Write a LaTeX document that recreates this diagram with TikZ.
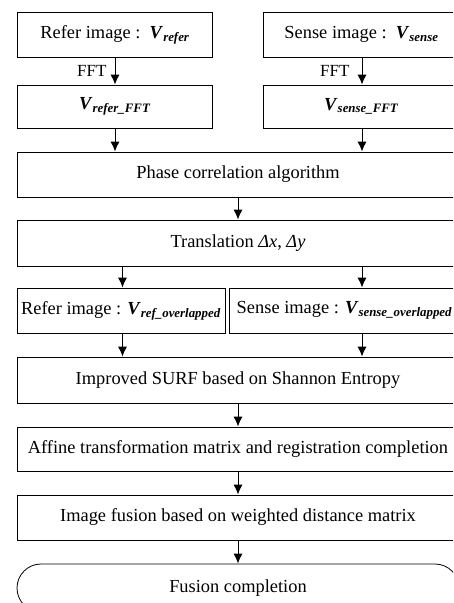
\documentclass[tikz,border=0pt]{standalone}
\usepackage{fontspec}
\setmainfont{Liberation Serif}
\usetikzlibrary{arrows.meta}
\newcommand{\vsub}[1]{\textbf{\textit{V}}\textsubscript{\textbf{\textit{#1}}}}

\begin{document}
\begin{tikzpicture}[x=1pt,y=-1pt,>={Latex[length=10pt,width=9pt]},
	box/.style={draw,line width=0.8pt,inner sep=0pt,align=center,
		font=\fontsize{18.4}{22}\selectfont},
	term/.style={box,rounded corners=24pt},
	flow/.style={->,line width=1pt},
	fftlabel/.style={font=\fontsize{17}{20}\selectfont,inner sep=0pt}]
	\useasboundingbox (0,0) rectangle (453,603);
	\clip (0,0) rectangle (453,603);

	% columns of the arrows
	\coordinate (lx) at (115,0);
	\coordinate (rx) at (362,0);
	\coordinate (lx2) at (122.5,0);

	% first rows: the two images
	\node[box,minimum width=195pt,minimum height=45pt] (refer) at (115,34.5) {Refer image :\ \ \vsub{refer}};
	\node[box,minimum width=197pt,minimum height=45pt] (sense) at (361.5,34.5) {Sense image :\ \ \vsub{sense}};
	\node[box,minimum width=195pt,minimum height=43pt] (referfft) at (115,106.5) {\vsub{refer\_FFT}};
	\node[box,minimum width=197pt,minimum height=43pt] (sensefft) at (361.5,106.5) {\vsub{sense\_FFT}};

	% whole width
	\node[box,minimum width=442pt,minimum height=45pt] (phase) at (238,174.5) {Phase correlation algorithm};
	\node[box,minimum width=442pt,minimum height=46pt] (transl) at (238,243) {Translation \textit{Δx}, \textit{Δy}};

	% overlapped parts
	\node[box,minimum width=208pt,minimum height=45pt] (referov) at (121,310.5) {Refer image : \vsub{ref\_overlapped}};
	\node[box,minimum width=231pt,minimum height=45pt] (senseov) at (344.5,310.5) {Sense image : \vsub{sense\_overlapped}};

	\node[box,minimum width=442pt,minimum height=46pt] (surf) at (238,380) {Improved SURF based on Shannon Entropy};
	\node[box,minimum width=442pt,minimum height=44pt] (affine) at (238,449) {Affine transformation matrix and registration completion};
	\node[box,minimum width=442pt,minimum height=45pt] (fusion) at (238,517.5) {Image fusion based on weighted distance matrix};
	\node[term,minimum width=442pt,minimum height=48pt] (done) at (238,588) {Fusion completion};

	% arrows
	\draw[flow] (refer.south -| lx) -- node[fftlabel,left=8pt] (fftl) {FFT} (referfft.north -| lx);
	\draw[flow] (sense.south -| rx) -- node[fftlabel,left=12pt] (fftr) {FFT} (sensefft.north -| rx);
	\draw[flow] (referfft.south -| lx) -- (phase.north -| lx);
	\draw[flow] (sensefft.south -| rx) -- (phase.north -| rx);
	\draw[flow] (phase) -- (transl);
	\draw[flow] (transl.south -| lx2) -- (referov.north -| lx2);
	\draw[flow] (transl.south -| rx) -- (senseov.north -| rx);
	\draw[flow] (referov.south -| lx2) -- (surf.north -| lx2);
	\draw[flow] (senseov.south -| rx) -- (surf.north -| rx);
	\draw[flow] (surf) -- (affine);
	\draw[flow] (affine) -- (fusion);
	\draw[flow] (fusion) -- (done);
\end{tikzpicture}
\end{document}
